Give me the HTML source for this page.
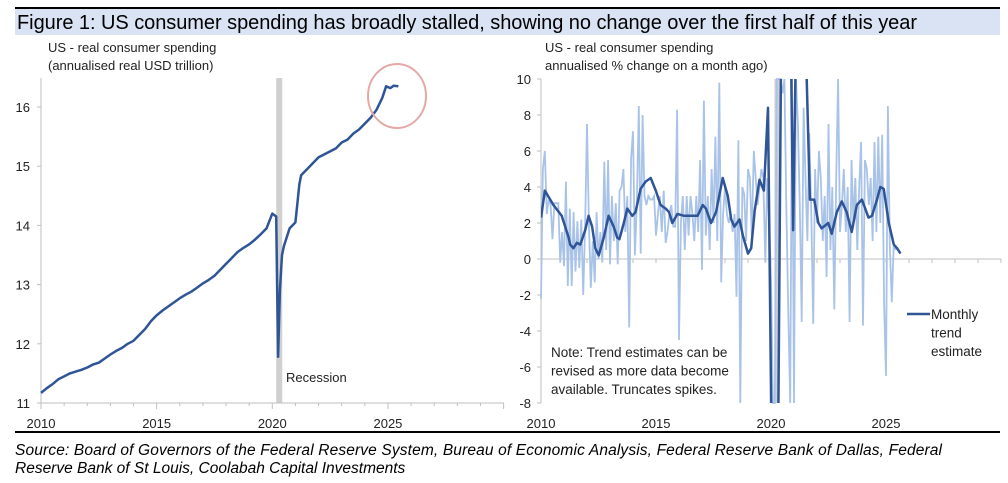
<!DOCTYPE html>
<html><head><meta charset="utf-8"><style>
body{margin:0;background:#fff;width:1008px;height:478px;overflow:hidden;font-family:"Liberation Sans",sans-serif;}
svg text{font-family:"Liberation Sans",sans-serif;}
</style></head><body>
<svg id="s" width="1008" height="478">
<defs><clipPath id="rc"><rect x="541" y="79" width="460" height="324"/></clipPath></defs>
<line x1="15" y1="8" x2="1000" y2="8" stroke="#000" stroke-width="2"/>
<rect x="15" y="9" width="985" height="26" fill="#dae3f3"/>
<text x="17" y="29" font-size="20" fill="#000" textLength="900">Figure 1:  US consumer spending has broadly stalled, showing no change over the first half of this year</text>
<text x="48" y="52" font-size="13" fill="#222">US - real consumer spending</text>
<text x="48" y="70" font-size="13" fill="#222">(annualised real USD trillion)</text>
<text x="545" y="52" font-size="13" fill="#222">US - real consumer spending</text>
<text x="545" y="70" font-size="13" fill="#222">annualised % change on a month ago)</text>
<g id="left"></g><g id="right"></g>
<line x1="15" y1="432" x2="1000" y2="432" stroke="#000" stroke-width="2"/>
<text x="15" y="455" font-size="15.5" font-style="italic" fill="#000" textLength="927">Source: Board of Governors of the Federal Reserve System, Bureau of Economic Analysis, Federal Reserve Bank of Dallas, Federal</text>
<text x="15" y="473" font-size="15.5" font-style="italic" fill="#000">Reserve Bank of St Louis, Coolabah Capital Investments</text>
</svg>
<script>
const levelDates=[2010,2010.25,2010.5,2010.75,2011,2011.25,2011.5,2011.75,2012,2012.25,2012.5,2012.75,2013,2013.25,2013.5,2013.75,2014,2014.25,2014.5,2014.75,2015,2015.25,2015.5,2015.75,2016,2016.25,2016.5,2016.75,2017,2017.25,2017.5,2017.75,2018,2018.25,2018.5,2018.75,2019,2019.25,2019.5,2019.75,2020,2020.17,2020.25,2020.33,2020.42,2020.5,2020.75,2021,2021.17,2021.25,2021.5,2021.75,2022,2022.25,2022.5,2022.75,2023,2023.25,2023.5,2023.75,2024,2024.25,2024.5,2024.75,2024.92,2025.1,2025.25,2025.45];
const levelValues=[11.17,11.25,11.32,11.4,11.45,11.5,11.53,11.56,11.6,11.65,11.68,11.75,11.82,11.88,11.93,12.0,12.05,12.15,12.25,12.38,12.48,12.56,12.63,12.7,12.77,12.83,12.88,12.95,13.02,13.08,13.15,13.25,13.35,13.45,13.55,13.62,13.68,13.76,13.85,13.95,14.2,14.15,11.78,12.9,13.5,13.65,13.95,14.05,14.7,14.85,14.95,15.05,15.15,15.2,15.25,15.3,15.4,15.45,15.55,15.62,15.72,15.82,15.95,16.15,16.35,16.32,16.36,16.35];
const leftYTicks=[11,12,13,14,15,16];
const xTickLabels=[2010,2015,2020,2025];
const monthlyStart=2010;
const monthlyValues=[-2.2,5.0,6.0,2.5,3.3,3.0,1.1,3.1,3.1,3.1,-0.2,1.5,
-0.4,4.3,-1.5,2.8,-1.5,2.6,-0.7,2.1,-0.5,2.2,-2.0,1.8,
7.5,2.0,-1.6,1.0,-1.3,2.6,0.0,1.5,-0.2,5.4,0.5,5.5,
-0.3,3.5,1.0,3.1,-0.3,3.8,4.0,5.0,1.5,3.5,-3.8,5.6,
7.1,0.2,3.0,8.5,0.3,8.0,3.5,3.0,3.5,3.3,3.3,3.5,
1.3,2.5,3.5,1.5,3.8,0.9,1.5,2.5,3.0,1.8,1.8,8.3,
-4.5,2.0,3.5,0.5,3.5,1.3,3.5,2.5,1.0,3.5,1.5,5.5,
-0.6,8.8,1.3,3.5,0.5,5.0,2.0,6.8,1.0,9.8,-1.3,2.5,
4.0,2.5,2.0,2.5,1.5,2.5,-2.1,6.6,-8.0,4.0,3.6,1.0,
5.0,4.5,1.3,6.0,4.5,3.0,4.0,5.0,4.5,-0.2,4.5,2.0,
-1.0,-8,-8,10,10,10,9.2,10,3.0,-3.0,-8,10,
-8,10,7.7,3.0,-3.5,8.4,4.5,1.0,7.0,2.5,-3.6,5.0,
2.0,6.0,4.5,1.0,3.5,-1.0,7.5,0.5,4.0,-2.8,4.5,10,
1.5,3.0,5.0,1.5,4.0,-3.5,5.5,2.0,4.5,0.5,4.0,6.5,
-3.7,5.5,5.0,3.0,4.5,1.0,6.5,1.5,6.8,2.0,6.9,-2.5,
-6.5,8.5,0.8,-2.4,0.8,0.5];
const trendDates=[2010.0,2010.17,2010.54,2010.9,2011.2,2011.27,2011.41,2011.56,2011.71,2011.92,2012.07,2012.22,2012.36,2012.51,2012.73,2012.94,2013.16,2013.31,2013.41,2013.6,2013.75,2013.97,2014.11,2014.33,2014.55,2014.77,2014.99,2015.2,2015.42,2015.57,2015.71,2015.93,2016.22,2016.81,2017.03,2017.17,2017.39,2017.61,2017.9,2018.12,2018.27,2018.41,2018.63,2018.78,2019.0,2019.14,2019.29,2019.5,2019.69,2019.87,2020.04,2020.3,2020.45,2020.85,2020.96,2021.11,2021.47,2021.69,2021.88,2022.06,2022.2,2022.49,2022.64,2022.86,2023.08,2023.29,2023.51,2023.73,2023.95,2024.24,2024.39,2024.61,2024.75,2024.9,2025.12,2025.34,2025.48,2025.63];
const trendValues=[2.3,3.8,3.0,2.4,1.2,0.8,0.6,0.9,0.8,1.6,2.4,1.8,0.6,0.2,1.2,2.4,1.8,1.2,1.1,2.0,2.8,2.4,2.6,3.9,4.3,4.5,3.8,3.0,2.8,2.6,2.0,2.5,2.4,2.4,3.0,2.8,2.0,2.6,4.5,3.5,2.2,1.8,2.2,1.3,0.3,0.6,2.7,4.4,3.8,8.4,-12,-12,14,14,1.6,14,14,3.3,3.3,2.0,1.7,2.0,1.4,2.6,3.2,2.6,1.5,3.0,3.3,2.3,2.4,3.3,4.0,3.9,2.0,0.8,0.6,0.3];
const rightYTicks=[-8,-6,-4,-2,0,2,4,6,8,10];
const NS="http://www.w3.org/2000/svg";
function mk(p,t,a){const e=document.createElementNS(NS,t);for(const k in a)e.setAttribute(k,a[k]);p.appendChild(e);return e;}
const L=document.getElementById('left');
const lx=y=>41+(y-2010)*23.13, ly=v=>403-(v-11)*59.2;
let r=mk(L,'rect',{x:lx(2020.17),y:78,width:6,height:325,fill:'#d0d0d0'});

let a=mk(L,'line',{x1:41,y1:78,x2:41,y2:403,stroke:'#bfbfbf'});

a=mk(L,'line',{x1:41,y1:403,x2:504,y2:403,stroke:'#bfbfbf'});

for(let y=2010;y<=2030;y++){const t=mk(L,'line',{x1:lx(y),y1:403,x2:lx(y),y2:y%5?406:409,stroke:'#bfbfbf'});}
leftYTicks.forEach(v=>{const t=mk(L,'line',{x1:37,y1:ly(v),x2:41,y2:ly(v),stroke:'#bfbfbf'});
const tx=mk(L,'text',{x:30,y:ly(v)+5,'font-size':13,'text-anchor':'end',fill:'#222'});tx.textContent=v;});
xTickLabels.forEach(y=>{const tx=mk(L,'text',{x:lx(y),y:428,'font-size':13,'text-anchor':'middle',fill:'#222'});tx.textContent=y;});
let p=mk(L,'path',{d:levelDates.map((d,i)=>(i?'L':'M')+lx(d).toFixed(1)+','+ly(levelValues[i]).toFixed(1)).join(''),fill:'none',stroke:'#2f5597','stroke-width':2.5,'stroke-linejoin':'round'});

let c=mk(L,'ellipse',{cx:397,cy:96,rx:29,ry:32,fill:'none',stroke:'#e3aaa5','stroke-width':2});

let tx=mk(L,'text',{x:286,y:382,'font-size':13,fill:'#222'});tx.textContent='Recession';

const R=document.getElementById('right');
const rx=y=>541+(y-2010)*23.0, ry=v=>259-v*18;
r=mk(R,'rect',{x:rx(2020.15),y:79,width:5,height:324,fill:'#d0d0d0'});

a=mk(R,'line',{x1:541,y1:79,x2:541,y2:403,stroke:'#bfbfbf'});

rightYTicks.forEach(v=>{const t=mk(R,'line',{x1:537,y1:ry(v),x2:541,y2:ry(v),stroke:'#bfbfbf'});
const l=mk(R,'text',{x:531,y:ry(v)+5,'font-size':13,'text-anchor':'end',fill:'#222'});l.textContent=v;});
a=mk(R,'line',{x1:541,y1:ry(0),x2:1001,y2:ry(0),stroke:'#bfbfbf'});

for(let y=2010;y<=2030;y++){const t=mk(R,'line',{x1:rx(y),y1:ry(0),x2:rx(y),y2:ry(0)+4,stroke:'#bfbfbf'});}
xTickLabels.forEach(y=>{const l=mk(R,'text',{x:rx(y),y:428,'font-size':13,'text-anchor':'middle',fill:'#222'});l.textContent=y;});
const clip=v=>Math.max(-8,Math.min(10,v));
p=mk(R,'path',{d:monthlyValues.map((v,i)=>(i?'L':'M')+rx(monthlyStart+i/12).toFixed(1)+','+ry(clip(v)).toFixed(1)).join(''),fill:'none',stroke:'#a9c3e8','stroke-width':1.8});

p=mk(R,'path',{d:trendDates.map((d,i)=>(i?'L':'M')+rx(d).toFixed(1)+','+ry(trendValues[i]).toFixed(1)).join(''),fill:'none',stroke:'#2f5597','stroke-width':2.5,'stroke-linejoin':'round','clip-path':'url(#rc)'});

a=mk(R,'line',{x1:907,y1:314,x2:930,y2:314,stroke:'#2f5597','stroke-width':2.5});

['Monthly','trend','estimate'].forEach((s,i)=>{const l=mk(R,'text',{x:931,y:319+i*18.5,'font-size':13.5,fill:'#222'});l.textContent=s;});
['Note: Trend estimates can be','revised as more data become','available. Truncates spikes.'].forEach((s,i)=>{const l=mk(R,'text',{x:551,y:357+i*18.5,'font-size':13.5,fill:'#222'});l.textContent=s;});
</script>
</body></html>
